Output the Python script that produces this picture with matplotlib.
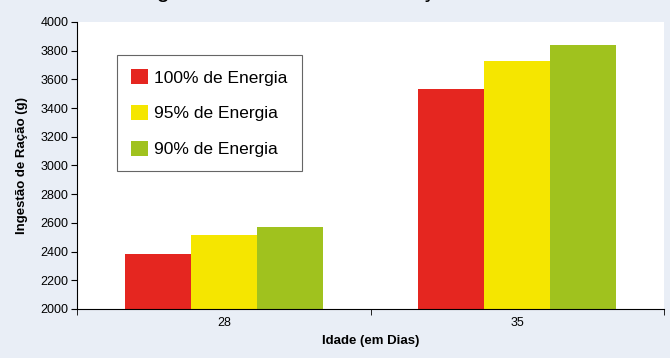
import matplotlib
matplotlib.use("Agg")
import matplotlib.pyplot as plt
import numpy as np

plt.rcParams['font.family'] = ['Liberation Sans', 'DejaVu Sans']

idades = ["28", "35"]
series = ["100% de Energia", "95% de Energia", "90% de Energia"]
valores_100 = [2383, 3533]
valores_95 = [2516, 3728]
valores_90 = [2571, 3840]
cores = ["#E52620", "#F5E600", "#A0C21E"]

fig = plt.figure(figsize=(6.7, 3.58), dpi=100, facecolor="#E9EEF6")
ax = fig.add_axes([77 / 670, 1 - 309 / 358, 587 / 670, 287 / 358])
ax.set_facecolor("white")

x = np.arange(len(idades))
w = 0.225
for i, (vals, lab, c) in enumerate(zip([valores_100, valores_95, valores_90], series, cores)):
    ax.bar(x + (i - 1) * w, vals, w, color=c, label=lab, zorder=2)

ax.set_xlim(-0.5, 1.5)
ax.set_ylim(2000, 4000)
ax.set_yticks(np.arange(2000, 4001, 200))
ax.set_xticks(x)
ax.set_xticklabels(idades)
ax.set_xticks([-0.5, 0.5, 1.5], minor=True)
ax.tick_params(axis="x", which="major", length=0, labelsize=9, pad=6)
ax.tick_params(axis="x", which="minor", length=4, direction="out")
ax.tick_params(axis="y", length=4, direction="out", labelsize=9, pad=2)

for s in ["top", "right"]:
    ax.spines[s].set_visible(False)
for s in ["left", "bottom"]:
    ax.spines[s].set_linewidth(0.8)

ax.set_ylabel("Ingestão de Ração (g)", fontsize=9.5, fontweight="bold", labelpad=9)
ax.set_xlabel("Idade (em Dias)", fontsize=9.5, fontweight="bold", labelpad=4)

leg = ax.legend(loc="upper left", bbox_to_anchor=(40 / 587, 1 - 33 / 287), fontsize=12.5,
                frameon=True, fancybox=False, edgecolor="#404040", handlelength=1.0,
                handleheight=1.0, handletextpad=0.35, labelspacing=1.1, borderpad=0.8,
                borderaxespad=0)
leg.get_frame().set_linewidth(0.8)

# title is cut off at the top edge, only descenders visible
fig.text(137 / 670, 1 + 2.5 / 358, "Ingestão Acumulada de Ração", ha="left",
         va="baseline", fontsize=17, color="black")

fig.savefig("out.png", dpi=100, facecolor=fig.get_facecolor())
